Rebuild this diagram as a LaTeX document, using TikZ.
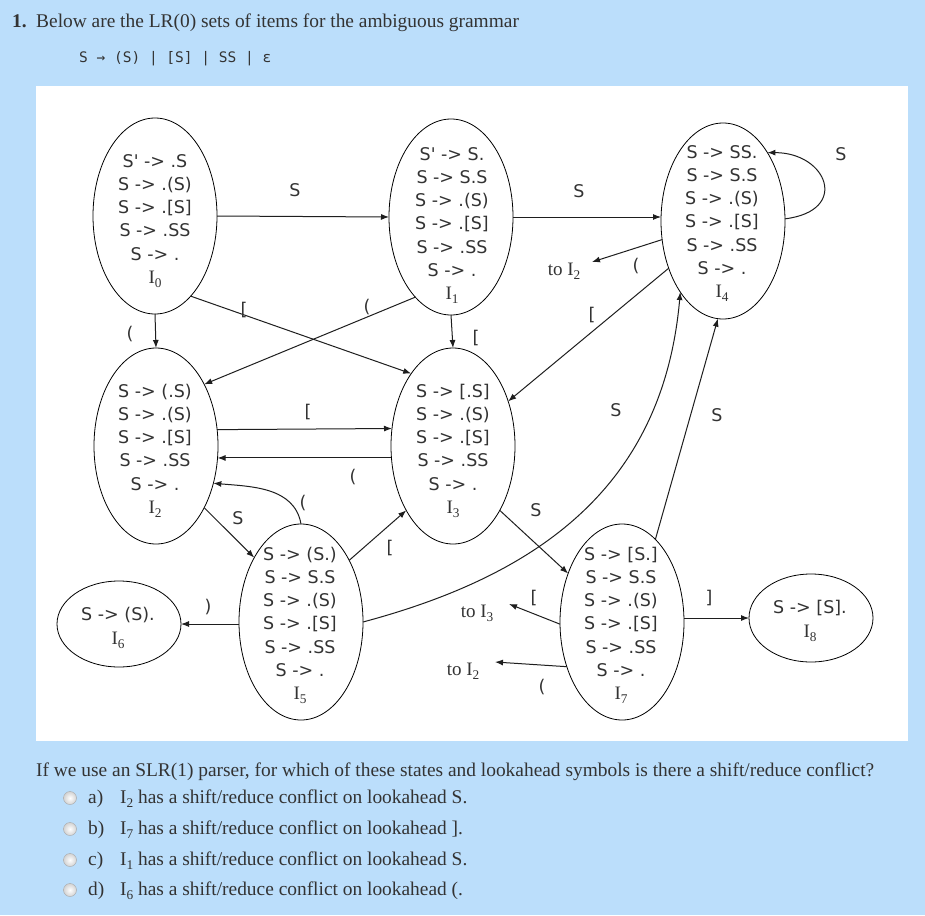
\documentclass[tikz,border=0pt]{standalone}
\usepackage{fontspec}
\setmainfont{Liberation Serif}
\newfontfamily\itemfont{DejaVu Sans}
\newfontfamily\gramfont{DejaVu Sans Mono}
\usetikzlibrary{arrows.meta,shapes.geometric}
\definecolor{bgblue}{RGB}{187,222,251}
\definecolor{ink}{RGB}{51,51,51}
\definecolor{lineink}{RGB}{30,30,30}
\newcommand\Isub[1]{I\raisebox{-4pt}{\fontsize{13.3}{13.3}\selectfont #1}}
\newcommand\Ilab[1]{{\rmfamily\fontsize{19}{19}\selectfont\Isub{#1}}}
\tikzset{
  state/.style={ellipse, draw=black, line width=0.8pt, minimum width=124pt, minimum height=196pt, inner sep=0pt, outer sep=0pt},
  smallstate/.style={state, minimum height=87pt},
  items/.style={font=\itemfont\fontsize{17.5}{23.3}\selectfont, text=ink, inner sep=0pt, anchor=base},
  conn/.style={draw=lineink, line width=1pt, -{Latex[length=8pt,width=6pt]}},
  elab/.style={font=\itemfont\fontsize{17.5}{17.5}\selectfont, text=ink, inner sep=0pt},
  tolab/.style={font=\fontsize{19}{19}\selectfont, text=ink, inner sep=0pt},
  qtext/.style={font=\fontsize{19.4}{19.4}\selectfont, text=ink, inner sep=0pt, anchor=base west},
  radio/.style={circle, draw=gray!70, inner color=white, outer color=gray!35, minimum size=13pt, inner sep=0pt},
}
\begin{document}
\begin{tikzpicture}[x=1pt,y=1pt]
\useasboundingbox (0,0) rectangle (925,-915);
\fill[bgblue] (0,0) rectangle (925,-915);
\fill[white] (36,-86) rectangle (908,-741);

% header
\node[qtext] (num) at (12,-28) {\bfseries 1.};
\node[qtext] (head) at (36,-28) {Below are the LR(0) sets of items for the ambiguous grammar};
\node[font=\gramfont\fontsize{14.5}{14.5}\selectfont, text=ink, inner sep=0pt, anchor=base west] (gram) at (79,-63) {S → (S) | [S] | SS | ε};

% states
\node[state] (I0) at (155,-216) {};
\node[state] (I1) at (451,-217) {};
\node[state] (I2) at (156,-446) {};
\node[state] (I3) at (453,-446) {};
\node[state] (I4) at (723,-221) {};
\node[state] (I5) at (301,-622) {};
\node[smallstate, minimum height=86pt] (I6) at (119,-624) {};
\node[state] (I7) at (622,-622) {};
\node[smallstate, minimum height=88pt] (I8) at (811,-618) {};

\node[items] (T0) at (155,-167) {\begin{tabular}[t]{@{}c@{}}S' -> .S\\ S -> .(S)\\ S -> .[S]\\ S -> .SS\\ S -> .\\ \Ilab{0}\end{tabular}};
\node[items] (T1) at (452,-160) {\begin{tabular}[t]{@{}c@{}}S' -> S.\\ S -> S.S\\ S -> .(S)\\ S -> .[S]\\ S -> .SS\\ S -> .\\ \Ilab{1}\end{tabular}};
\node[items] (T2) at (155,-397) {\begin{tabular}[t]{@{}c@{}}S -> (.S)\\ S -> .(S)\\ S -> .[S]\\ S -> .SS\\ S -> .\\ \Ilab{2}\end{tabular}};
\node[items] (T3) at (453,-397) {\begin{tabular}[t]{@{}c@{}}S -> [.S]\\ S -> .(S)\\ S -> .[S]\\ S -> .SS\\ S -> .\\ \Ilab{3}\end{tabular}};
\node[items] (T4) at (722,-158) {\begin{tabular}[t]{@{}c@{}}S -> SS.\\ S -> S.S\\ S -> .(S)\\ S -> .[S]\\ S -> .SS\\ S -> .\\ \Ilab{4}\end{tabular}};
\node[items] (T5) at (300,-560) {\begin{tabular}[t]{@{}c@{}}S -> (S.)\\ S -> S.S\\ S -> .(S)\\ S -> .[S]\\ S -> .SS\\ S -> .\\ \Ilab{5}\end{tabular}};
\node[items] (T6) at (118,-620) {\begin{tabular}[t]{@{}c@{}}S -> (S).\\[1.5pt] \Ilab{6}\end{tabular}};
\node[items] (T7) at (621,-560) {\begin{tabular}[t]{@{}c@{}}S -> [S.]\\ S -> S.S\\ S -> .(S)\\ S -> .[S]\\ S -> .SS\\ S -> .\\ \Ilab{7}\end{tabular}};
\node[items] (T8) at (810,-613) {\begin{tabular}[t]{@{}c@{}}S -> [S].\\[1.5pt] \Ilab{8}\end{tabular}};

% free ends
\coordinate (ta) at (592,-262);
\coordinate (tb) at (509,-604);
\coordinate (tc) at (495,-662);

% connectors
\draw[conn] (I0.east) -- (I1.west);
\draw[conn] (I0.south) -- (I2.north);
\draw[conn] (I0.-66.9) -- (I3.120.7);
\draw[conn] (I1.246) -- (I2.52.8);
\draw[conn] (I1.south) -- (I3.north);
\draw[conn] (I1.east) -- (I1.east -| I4.west);
\draw[conn] (I4.2) .. controls +(65,8) and +(60,0) .. (I4.57);
\draw[conn] (I4.197.3) -- (ta);
\draw[conn] (I4.221.7) -- (I3.39.7);
\draw[conn] (I2.15.6) -- (I3.164.4);
\draw[conn] (I3.191) -- (I2.-11);
\draw[conn] (I5.north) to[out=100,in=-5] (I2.-33.7);
\draw[conn] (I2.-52.6) -- (I5.126.9);
\draw[conn] (I5.52.6) -- (I3.234.3);
\draw[conn] (I5.west |- I6.east) -- (I6.east);
\draw[conn] (I5.east) .. controls +(15:175) and +(-95:200) .. (I4.239.8);
\draw[conn] (I3.-54.6) -- (I7.138.3);
\draw[conn] (I7.68.8) -- (I4.-93);
\draw[conn] (I7.182.8) -- (tb);
\draw[conn] (I7.219.3) -- (tc);
\draw[conn] (I7.east |- I8.west) -- (I8.west);

% connector labels
\node[elab] (l1) at (295,-190) {S};
\node[elab] (l2) at (130,-334) {(};
\node[elab] (l3) at (244,-310) {[};
\node[elab] (l4) at (367,-307) {(};
\node[elab] (l5) at (476,-338) {[};
\node[elab] (l6) at (579,-191) {S};
\node[elab] (l7) at (841,-154) {S};
\node[elab] (l8) at (636,-266) {(};
\node[tolab] (l8t) at (564,-271) {to \Isub{2}};
\node[elab] (l9) at (592,-315) {[};
\node[elab] (l10) at (308,-412) {[};
\node[elab] (l11) at (353,-477) {(};
\node[elab] (l12) at (303,-503) {(};
\node[elab] (l13) at (238,-518) {S};
\node[elab] (l14) at (390,-548) {[};
\node[elab] (l15) at (208,-607) {)};
\node[elab] (l16) at (616,-410) {S};
\node[elab] (l17) at (536,-510) {S};
\node[elab] (l18) at (717,-415) {S};
\node[elab] (l19) at (534,-598) {[};
\node[tolab] (l19t) at (477,-613) {to \Isub{3}};
\node[elab] (l20) at (542,-687) {(};
\node[tolab] (l20t) at (463,-671) {to \Isub{2}};
\node[elab] (l21) at (709,-598) {]};

% question
\node[qtext] (q) at (36,-776) {If we use an SLR(1) parser, for which of these states and lookahead symbols is there a shift/reduce conflict?};
\node[radio] (ra) at (70,-798) {};
\node[radio] (rb) at (70,-829) {};
\node[radio] (rc) at (70,-860) {};
\node[radio] (rd) at (70,-890) {};
\node[qtext] (oa) at (88,-803) {a)};
\node[qtext] (ob) at (88,-834) {b)};
\node[qtext] (oc) at (88,-865) {c)};
\node[qtext] (od) at (88,-895) {d)};
\node[qtext] (ta1) at (120,-803) {\Isub{2} has a shift/reduce conflict on lookahead S.};
\node[qtext] (tb1) at (120,-834) {\Isub{7} has a shift/reduce conflict on lookahead ].};
\node[qtext] (tc1) at (120,-865) {\Isub{1} has a shift/reduce conflict on lookahead S.};
\node[qtext] (td1) at (120,-895) {\Isub{6} has a shift/reduce conflict on lookahead (.};
\end{tikzpicture}
\end{document}
